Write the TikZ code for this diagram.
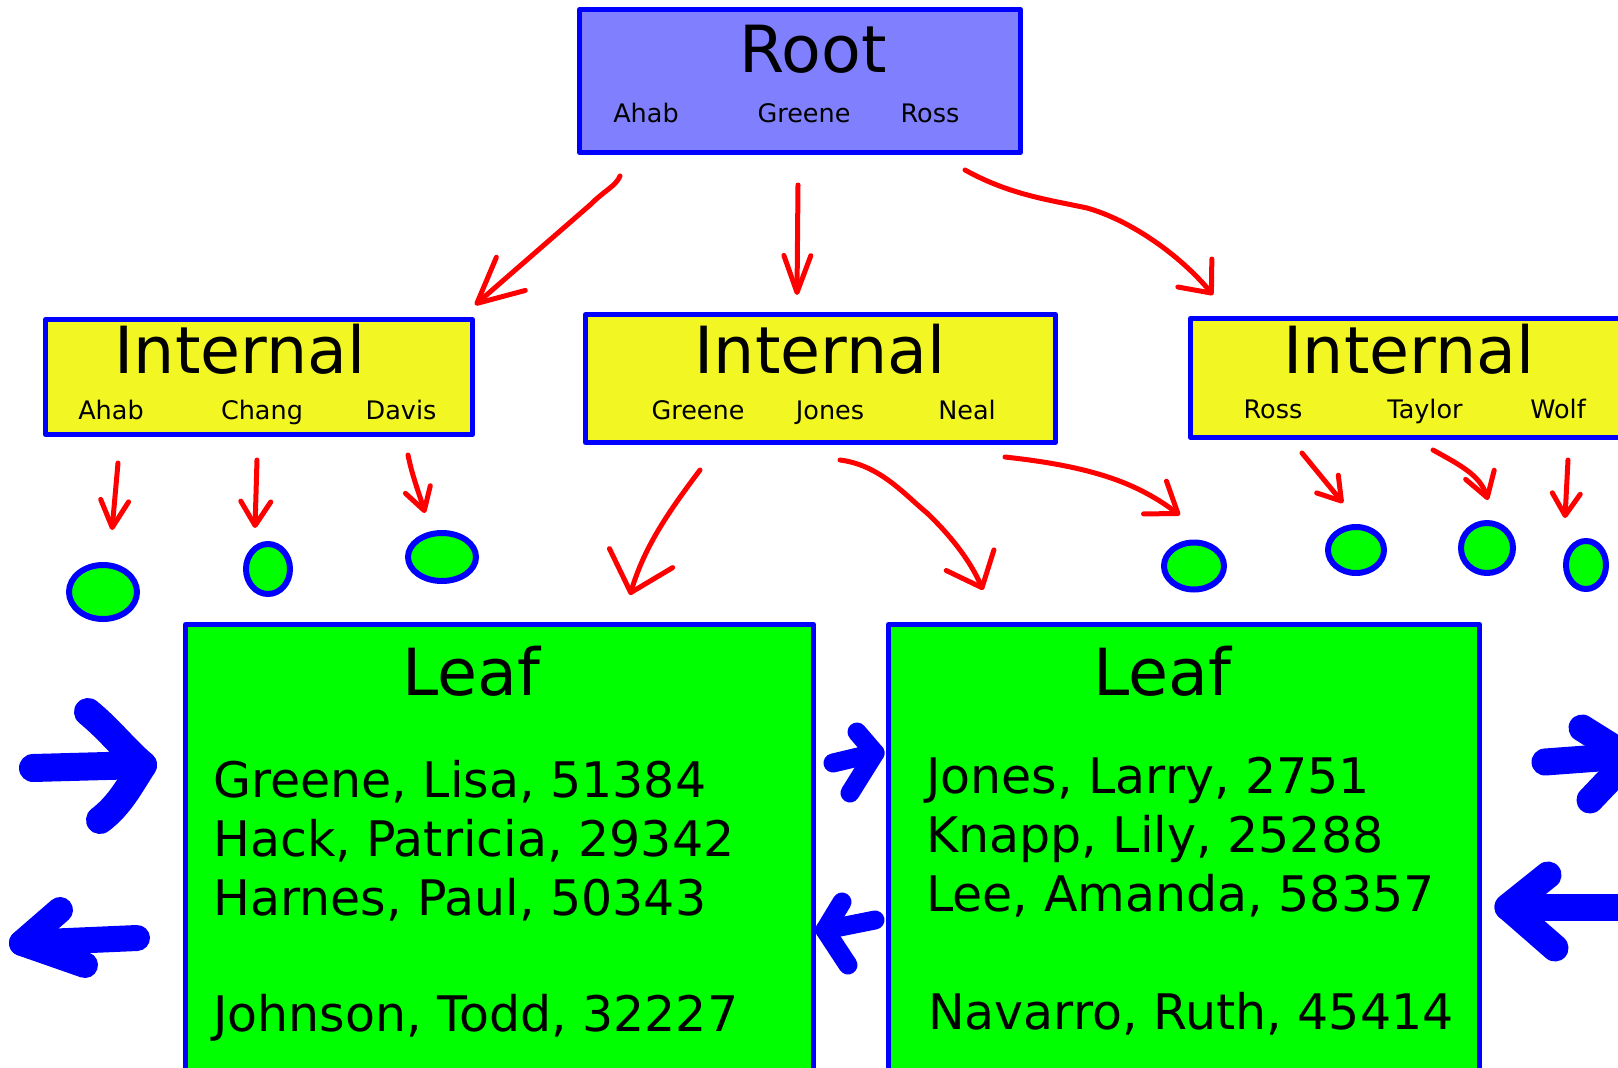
\documentclass[tikz,border=0pt]{standalone}
\usepackage{fontspec}
\setmainfont{DejaVu Sans}
\usetikzlibrary{arrows.meta,shapes.geometric}
\definecolor{rootfill}{RGB}{128,128,255}
\definecolor{intfill}{RGB}{242,247,36}
\definecolor{leaffill}{RGB}{0,255,0}
\definecolor{bblue}{RGB}{0,0,255}
\definecolor{rred}{RGB}{255,0,0}
\begin{document}
\begin{tikzpicture}[x=1pt,y=-1pt,
  box/.style={draw=bblue, line width=5pt, line join=round, rectangle, inner sep=0pt, outer sep=0pt, anchor=north west},
  bigtxt/.style={font=\fontsize{65}{65}\selectfont, anchor=base, inner sep=0pt},
  keytxt/.style={font=\fontsize{25.5}{25.5}\selectfont, anchor=base, inner sep=0pt},
  rectxt/.style={font=\fontsize{49}{49}\selectfont, anchor=base west, inner sep=0pt},
  ptr/.style={draw=bblue, fill=leaffill, line width=6pt, ellipse, inner sep=0pt},
  redarr/.style={draw=rred, line width=5pt, line cap=round, line join=round},
  hd/.style 2 args={-{Straight Barb[round,length=#1pt,width=#2pt]}},
  bluearr/.style={draw=bblue, line cap=round, line join=round},
]
\useasboundingbox (0,0) rectangle (1618,1068);
\clip (0,0) rectangle (1618,1068);
\fill[white] (0,0) rectangle (1618,1068);

% boxes
\node[box, fill=rootfill, minimum width=441pt, minimum height=143pt] (root) at (579.5,9.5) {};
\node[box, fill=intfill, minimum width=427pt, minimum height=115pt] (intL) at (45.5,319.5) {};
\node[box, fill=intfill, minimum width=470pt, minimum height=128pt] (intM) at (585.5,314.5) {};
\node[box, fill=intfill, minimum width=510pt, minimum height=119pt] (intR) at (1190.5,318.5) {};
\node[box, fill=leaffill, minimum width=628pt, minimum height=476pt] (leafL) at (185.5,624.5) {};
\node[box, fill=leaffill, minimum width=591pt, minimum height=476pt] (leafR) at (888.5,624.5) {};

% root text
\node[bigtxt] (rootT) at (813,72) {Root};
\node[keytxt] (rk1) at (646,122) {Ahab};
\node[keytxt] (rk2) at (804,122) {Greene};
\node[keytxt] (rk3) at (930,122) {Ross};

% internal texts
\node[bigtxt] (iLT) at (240,373) {Internal};
\node[keytxt] (iLk1) at (111,419) {Ahab};
\node[keytxt] (iLk2) at (262,419) {Chang};
\node[keytxt] (iLk3) at (401,419) {Davis};

\node[bigtxt] (iMT) at (820,373) {Internal};
\node[keytxt] (iMk1) at (698,419) {Greene};
\node[keytxt] (iMk2) at (830,419) {Jones};
\node[keytxt] (iMk3) at (967,419) {Neal};

\node[bigtxt] (iRT) at (1409,373) {Internal};
\node[keytxt] (iRk1) at (1273,418) {Ross};
\node[keytxt] (iRk2) at (1425,418) {Taylor};
\node[keytxt] (iRk3) at (1558,418) {Wolf};

% leaf texts
\node[bigtxt] (lLT) at (471,695) {Leaf};
\node[rectxt] (lL1) at (213,797) {Greene, Lisa, 51384};
\node[rectxt] (lL2) at (213,856) {Hack, Patricia, 29342};
\node[rectxt] (lL3) at (213,915) {Harnes, Paul, 50343};
\node[rectxt] (lL4) at (213,1031) {Johnson, Todd, 32227};

\node[bigtxt] (lRT) at (1162,695) {Leaf};
\node[rectxt] (lR1) at (926,793) {Jones, Larry, 2751};
\node[rectxt] (lR2) at (926,852) {Knapp, Lily, 25288};
\node[rectxt] (lR3) at (926,911) {Lee, Amanda, 58357};
\node[rectxt] (lR4) at (928,1029) {Navarro, Ruth, 45414};

% pointer ellipses
\node[ptr, minimum width=68pt, minimum height=54pt] (p1) at (103,592) {};
\node[ptr, minimum width=44pt, minimum height=50pt] (p2) at (268,569) {};
\node[ptr, minimum width=68pt, minimum height=48pt] (p3) at (442,557) {};
\node[ptr, minimum width=60pt, minimum height=47pt] (p4) at (1194,566) {};
\node[ptr, minimum width=56pt, minimum height=46pt] (p5) at (1356,550) {};
\node[ptr, minimum width=52pt, minimum height=50pt] (p6) at (1487,548) {};
\node[ptr, minimum width=40pt, minimum height=48pt] (p7) at (1586,565) {};

% arrow coordinates
\coordinate (t1s) at (620,176); \coordinate (t1e) at (475,305);
\coordinate (t2s) at (798,185); \coordinate (t2e) at (797,295);
\coordinate (t3s) at (965,170); \coordinate (t3e) at (1213,295);
\coordinate (a1s) at (118,463); \coordinate (a1e) at (112,530);
\coordinate (a2s) at (257,460); \coordinate (a2e) at (255,528);
\coordinate (a3s) at (408,455); \coordinate (a3e) at (425,513);
\coordinate (b1s) at (700,470); \coordinate (b1e) at (630,595);
\coordinate (b2s) at (840,460); \coordinate (b2e) at (983,590);
\coordinate (b3s) at (1005,457); \coordinate (b3e) at (1180,515);
\coordinate (c1s) at (1302,453); \coordinate (c1e) at (1343,503);
\coordinate (c2s) at (1433,450); \coordinate (c2e) at (1488,500);
\coordinate (c3s) at (1568,460); \coordinate (c3e) at (1565,518);

% red arrows
\draw[redarr, hd={45}{44}] (t1s) .. controls (616,186) and (605,190) .. (590,205) -- (t1e);
\draw[redarr, hd={37}{27}] (t2s) -- (t2e);
\draw[redarr, hd={26}{44}] (t3s) .. controls (1010,195) and (1050,200) .. (1087,208) .. controls (1130,220) and (1180,255) .. (t3e);
\draw[redarr, hd={27}{28}] (a1s) -- (a1e);
\draw[redarr, hd={24}{30}] (a2s) -- (a2e);
\draw[redarr, hd={22}{26}] (a3s) .. controls (412,475) and (418,490) .. (a3e);
\draw[redarr, hd={36}{66}] (b1s) .. controls (670,510) and (645,545) .. (b1e);
\draw[redarr, hd={30}{52}] (b2s) .. controls (880,465) and (905,495) .. (927,513) .. controls (950,535) and (970,560) .. (b2e);
\draw[redarr, hd={28}{40}] (b3s) .. controls (1050,462) and (1100,470) .. (1140,490) .. controls (1160,500) and (1170,508) .. (b3e);
\draw[redarr, hd={22}{28}] (c1s) -- (c1e);
\draw[redarr, hd={24}{30}] (c2s) .. controls (1460,465) and (1480,475) .. (c2e);
\draw[redarr, hd={22}{28}] (c3s) -- (c3e);

% blue sibling arrows
\draw[bluearr, line width=28pt] (33,768) -- (143,765);
\draw[bluearr, line width=28pt] (88,712) .. controls (110,730) and (125,750) .. (143,765) .. controls (130,785) and (120,805) .. (100,820);
\draw[bluearr, line width=26pt] (137,938) -- (22,943);
\draw[bluearr, line width=26pt] (60,910) -- (22,943) -- (85,965);

\draw[bluearr, line width=19pt] (833,763) -- (875,753);
\draw[bluearr, line width=19pt] (857,732) -- (875,753) -- (850,793);
\draw[bluearr, line width=19pt] (875,920) -- (825,930);
\draw[bluearr, line width=19pt] (842,902) -- (825,930) -- (848,965);

\draw[bluearr, line width=27pt] (1545,762) -- (1640,755);
\draw[bluearr, line width=27pt] (1582,728) -- (1630,758) -- (1590,800);
\draw[bluearr, line width=27pt] (1508,907) -- (1640,907);
\draw[bluearr, line width=27pt] (1548,875) -- (1508,907) -- (1555,948);
\end{tikzpicture}
\end{document}
